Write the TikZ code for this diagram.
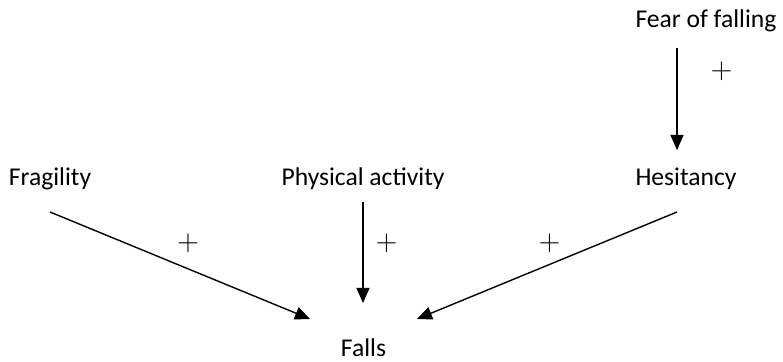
\documentclass[tikz,border=0pt]{standalone}
\usepackage{fontspec}
\setmainfont{Carlito}
\usetikzlibrary{arrows.meta,positioning}

\begin{document}
\begin{tikzpicture}[
    x=0.5pt, y=-0.5pt,
    lbl/.style={anchor=base, inner sep=0pt, font=\fontsize{12.8}{14}\selectfont},
    sgn/.style={inner sep=0pt, font=\fontsize{14}{16}\selectfont},
    arr/.style={-{Triangle[length=7.5pt, width=6.5pt]}, line width=0.7pt}
]
    \useasboundingbox (0,0) rectangle (783,362);
    % factors
    \node[lbl] (fof)   at (706, 28)  {Fear of falling};
    \node[lbl] (hes)   at (686, 186) {Hesitancy};
    \node[lbl] (phys)  at (363, 186) {Physical activity};
    \node[lbl] (frag)  at (50, 186)  {Fragility};
    \node[lbl] (falls) at (363.5, 357) {Falls};
    % arrow ends
    \coordinate (fofout)   at (677, 48);
    \coordinate (hesin)    at (677, 150);
    \coordinate (hesout)   at (677, 212);
    \coordinate (physout)  at (363, 202);
    \coordinate (fragout)  at (50, 212);
    \coordinate (fallsL)   at (310, 319);
    \coordinate (fallsT)   at (363, 303);
    \coordinate (fallsR)   at (417, 319);
    \draw[arr] (fofout) -- (hesin);
    \draw[arr] (fragout) -- (fallsL);
    \draw[arr] (physout) -- (fallsT);
    \draw[arr] (hesout) -- (fallsR);
    % signs
    \node[sgn] (s1) at (721.5, 71) {$+$};
    \node[sgn] (s2) at (188, 243)  {$+$};
    \node[sgn] (s3) at (386.5, 243) {$+$};
    \node[sgn] (s4) at (549.5, 243) {$+$};
\end{tikzpicture}
\end{document}
